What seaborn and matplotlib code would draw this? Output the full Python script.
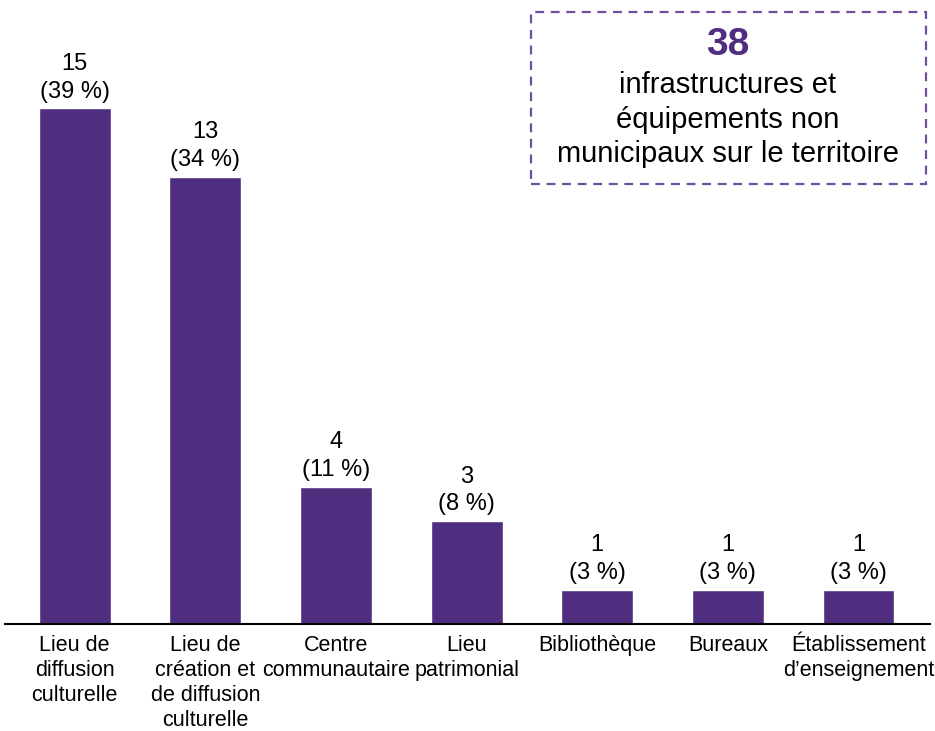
import matplotlib
matplotlib.use("Agg")
import matplotlib.pyplot as plt
import seaborn as sns
from matplotlib.patches import Rectangle

# ============================================================
# DATA
# ============================================================
categories = [
    "Lieu de\ndiffusion\nculturelle",
    "Lieu de\ncréation et\nde diffusion\nculturelle",
    "Centre\ncommunautaire",
    "Lieu\npatrimonial",
    "Bibliothèque",
    "Bureaux",
    "Établissement\nd\u2019enseignement",
]
counts = [15, 13, 4, 3, 1, 1, 1]
percents = [39, 34, 11, 8, 3, 3, 3]
total = 38
total_caption = "infrastructures et\néquipements non\nmunicipaux sur le territoire"

PURPLE = "#4F2D7F"
BOX_PURPLE = "#6E4FA0"

# ============================================================
# PLOT
# ============================================================
sns.set_style("white")
plt.rcParams["font.family"] = ["Liberation Sans", "DejaVu Sans"]
plt.rcParams["text.color"] = "black"
plt.rcParams["xtick.color"] = "black"
plt.rcParams["xtick.labelcolor"] = "black"

fig = plt.figure(figsize=(9.35, 7.31), dpi=100)
ax = fig.add_axes([0.005, 0.146, 0.99, 0.854])

sns.barplot(x=categories, y=counts, color=PURPLE, width=0.55,
            saturation=1, ax=ax)

labels = [f"{c}\n({p} %)" for c, p in zip(counts, percents)]
ax.bar_label(ax.containers[0], labels=labels, padding=4,
             fontsize=17, linespacing=1.35, color="black")

ax.set_xlim(-0.536, 6.55)
ax.set_ylim(0, 18.14)
ax.set_yticks([])
ax.set_xlabel("")
ax.set_ylabel("")
ax.tick_params(axis="x", length=0, pad=8, labelsize=15.5, labelcolor="black")
for lbl in ax.get_xticklabels():
    lbl.set_linespacing(1.24)

for side in ["top", "left", "right"]:
    ax.spines[side].set_visible(False)
ax.spines["bottom"].set_color("black")
ax.spines["bottom"].set_linewidth(1.5)

# total box
box = Rectangle((0.568, 0.748), 0.4225, 0.2353, transform=fig.transFigure,
                fill=False, edgecolor=BOX_PURPLE, linewidth=1.6,
                linestyle=(0, (4, 3)))
fig.patches.append(box)
fig.text(0.7786, 0.938, str(total), ha="center", va="center",
         fontsize=28, fontweight="bold", color=PURPLE)
fig.text(0.7786, 0.836, total_caption, ha="center", va="center",
         fontsize=21, linespacing=1.3, color="black")

fig.savefig("out.png", dpi=100)
